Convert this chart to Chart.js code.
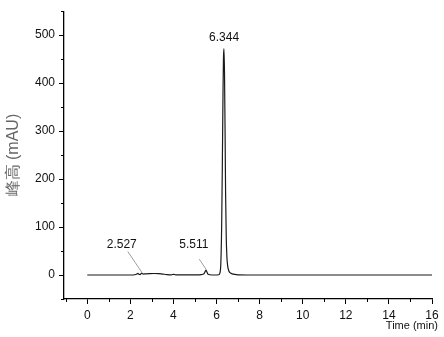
<!DOCTYPE html>
<html><head><meta charset="utf-8">
<script src="https://cdn.jsdelivr.net/npm/chart.js@4.4.1/dist/chart.umd.min.js"></script>
<style>html,body{margin:0;padding:0;background:#fff}canvas{display:block}</style>
</head><body>
<canvas id="c" width="444" height="337"></canvas>
<script>
// --- data ---
const times  = [0, 1, 2.0, 2.2, 2.3, 2.35, 2.4, 2.45, 2.527, 2.6, 2.7, 2.9, 3.1, 3.3, 3.5, 3.7, 3.9, 4.0, 4.1, 4.5, 5.0, 5.3, 5.42, 5.48, 5.511, 5.55, 5.6, 5.7, 5.9, 6.1, 6.16, 6.2, 6.24, 6.27, 6.3, 6.32, 6.344, 6.37, 6.4, 6.42, 6.45, 6.48, 6.52, 6.56, 6.62, 6.7, 6.85, 7.0, 8, 10, 12, 14, 16];
const signal = [0, 0, 0, 0.5, 2, 3.5, 1.5, 1, 4, 2, 2.5, 3, 3.2, 3, 2, 1, 0.5, 1.5, 0.5, 0.5, 0.5, 1, 3, 8, 10, 7, 2, 0.5, 0, 0.5, 5, 25, 110, 235, 380, 450, 472, 420, 280, 170, 80, 38, 18, 10, 5, 3, 1.2, 0.5, 0, 0, 0, 0, 0];
const peakNames = ['2.527', '5.511', '6.344'];
const peakTimes = [2.527, 5.511, 6.344];
const peakHeights = [4, 10, 472];
const xTickValues = [0, 2, 4, 6, 8, 10, 12, 14, 16];
const yTickValues = [0, 100, 200, 300, 400, 500];
const yMinorValues = [-50, 50, 150, 250, 350, 450, 550];
const xMinorValues = [-1, 1, 3, 5, 7, 9, 11, 13, 15];
const xTitle = 'Time (min)';
const yTitle = '峰高 (mAU)';

// label placement (data units): text anchor and leader-line start
const labelText = [[1.6, 63], [4.95, 63], [6.35, 494]];
const leaderStart = [[1.88, 49], [5.2, 33], null];

const FONT = '"Liberation Sans", Arial, sans-serif';

const annot = {
  id: 'annot',
  afterDatasetsDraw(chart) {
    const {ctx, scales: {x, y}} = chart;
    ctx.save();
    // minor ticks
    ctx.strokeStyle = '#000'; ctx.lineWidth = 1;
    ctx.beginPath();
    yMinorValues.forEach(v => { const py = Math.round(y.getPixelForValue(v)) + 0.5; ctx.moveTo(x.left - 3, py); ctx.lineTo(x.left, py); });
    xMinorValues.forEach(v => { const px = Math.round(x.getPixelForValue(v)) + 0.5; ctx.moveTo(px, y.bottom); ctx.lineTo(px, y.bottom + 3); });
    ctx.stroke();
    // peak labels
    ctx.font = '12px ' + FONT;
    ctx.fillStyle = '#111';
    ctx.textAlign = 'center'; ctx.textBaseline = 'middle';
    peakNames.forEach((n, i) => {
      ctx.fillText(n, x.getPixelForValue(labelText[i][0]), y.getPixelForValue(labelText[i][1]));
      if (leaderStart[i]) {
        ctx.strokeStyle = '#888'; ctx.lineWidth = 0.8;
        ctx.beginPath();
        ctx.moveTo(x.getPixelForValue(leaderStart[i][0]), y.getPixelForValue(leaderStart[i][1]));
        ctx.lineTo(x.getPixelForValue(peakTimes[i]), y.getPixelForValue(peakHeights[i] + 2));
        ctx.stroke();
      }
    });
    // x title
    ctx.font = '11px ' + FONT;
    ctx.fillStyle = '#111';
    ctx.textAlign = 'right';
    ctx.fillText(xTitle, 438, 326);
    ctx.restore();
  }
};

new Chart(document.getElementById('c'), {
  type: 'line',
  data: {
    datasets: [{
      data: times.map((t, i) => ({x: t, y: signal[i]})),
      borderColor: '#1a1a1a', borderWidth: 1.2,
      pointRadius: 0, fill: false, cubicInterpolationMode: 'monotone'
    }]
  },
  options: {
    responsive: false, animation: false,
    layout: {padding: {top: 5, right: 12, left: 0, bottom: 0}},
    plugins: {legend: {display: false}, tooltip: {enabled: false}},
    scales: {
      x: {
        type: 'linear', min: -1.08, max: 16,
        afterBuildTicks: s => { s.ticks = xTickValues.map(v => ({value: v})); },
        afterFit: s => { s.height = 38; },
        grid: {drawOnChartArea: false, tickLength: 5, color: '#000', tickWidth: 1},
        border: {display: true, color: '#000', width: 1.3},
        ticks: {font: {family: FONT, size: 12}, color: '#111', padding: 4, maxRotation: 0, autoSkip: false,
                callback: v => String(v)}
      },
      y: {
        type: 'linear', min: -50, max: 550,
        afterBuildTicks: s => { s.ticks = yTickValues.map(v => ({value: v})); },
        afterFit: s => { s.width = 64; },
        grid: {drawOnChartArea: false, tickLength: 5, color: '#000', tickWidth: 1},
        border: {display: true, color: '#000', width: 1.3},
        ticks: {font: {family: FONT, size: 12}, color: '#111', padding: 4, callback: v => String(v)},
        title: {display: true, text: yTitle, font: {family: FONT, size: 16}, color: '#666', padding: {top: 4, bottom: 0}}
      }
    }
  },
  plugins: [annot]
});
</script>
</body></html>
